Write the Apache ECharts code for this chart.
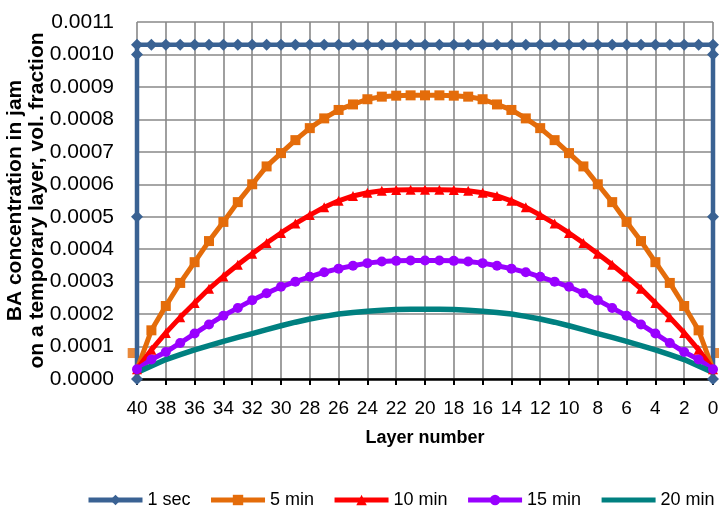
<!DOCTYPE html>
<html><head><meta charset="utf-8">
<script src="https://cdn.jsdelivr.net/npm/echarts@6/dist/echarts.min.js"></script>
<style>html,body{margin:0;padding:0;background:#fff}#c{width:719px;height:514px}</style>
</head><body><div id="c"></div>
<script>
const layers = [40,39,38,37,36,35,34,33,32,31,30,29,28,27,26,25,24,23,22,21,20,19,18,17,16,15,14,13,12,11,10,9,8,7,6,5,4,3,2,1,0];
const xTicks = [40,38,36,34,32,30,28,26,24,22,20,18,16,14,12,10,8,6,4,2,0];
const yTicks = [0,0.0001,0.0002,0.0003,0.0004,0.0005,0.0006,0.0007,0.0008,0.0009,0.0010,0.0011];
const seriesNames = ['1 sec','5 min','10 min','15 min','20 min'];

const sec1Layers = [40,40,40,40,39,38,37,36,35,34,33,32,31,30,29,28,27,26,25,24,23,22,21,20,19,18,17,16,15,14,13,12,11,10,9,8,7,6,5,4,3,2,1,0,0,0,0];
const sec1 = [0,0.0005,0.0010,0.00103,0.00103,0.00103,0.00103,0.00103,0.00103,0.00103,0.00103,0.00103,0.00103,0.00103,0.00103,0.00103,0.00103,0.00103,0.00103,0.00103,0.00103,0.00103,0.00103,0.00103,0.00103,0.00103,0.00103,0.00103,0.00103,0.00103,0.00103,0.00103,0.00103,0.00103,0.00103,0.00103,0.00103,0.00103,0.00103,0.00103,0.00103,0.00103,0.00103,0.00103,0.0010,0.0005,0];

const min5 = [0.00003,0.00015,0.000225,0.000296,0.00036,0.000425,0.000484,0.000545,0.0006,0.000655,0.000696,0.000736,0.000773,0.000803,0.000829,0.000846,0.000862,0.00087,0.000873,0.000874,0.000874,0.000874,0.000873,0.00087,0.000862,0.000846,0.000829,0.000803,0.000773,0.000736,0.000696,0.000655,0.0006,0.000545,0.000484,0.000425,0.00036,0.000296,0.000225,0.00015,0.00003];
const min5EdgeLayers = [40.3,-0.3];
const min5Edge = [0.00008,0.00008];

const min10 = [0.00003,0.00009,0.000142,0.00019,0.000234,0.000278,0.000316,0.000352,0.000386,0.000419,0.00045,0.000479,0.000505,0.000529,0.000549,0.000564,0.000574,0.00058,0.000582,0.000583,0.000583,0.000583,0.000582,0.00058,0.000574,0.000564,0.000549,0.000529,0.000505,0.000479,0.00045,0.000419,0.000386,0.000352,0.000316,0.000278,0.000234,0.00019,0.000142,0.00009,0.00003];

const min15 = [0.00003,0.00006,0.000083,0.000111,0.00014,0.000168,0.000195,0.000219,0.000243,0.000264,0.000284,0.0003,0.000315,0.000329,0.00034,0.000349,0.000357,0.000362,0.000364,0.000365,0.000365,0.000365,0.000364,0.000362,0.000357,0.000349,0.00034,0.000329,0.000315,0.0003,0.000284,0.000264,0.000243,0.000219,0.000195,0.000168,0.00014,0.000111,0.000083,0.00006,0.00003];

const min20 = [0.00002,0.00004,0.00006,0.000075,0.00009,0.000103,0.000116,0.000128,0.00014,0.000152,0.000164,0.000175,0.000185,0.000193,0.0002,0.000205,0.000209,0.000212,0.000214,0.000215,0.000215,0.000215,0.000214,0.000212,0.000209,0.000205,0.0002,0.000193,0.000185,0.000175,0.000164,0.000152,0.00014,0.000128,0.000116,0.000103,0.00009,0.000075,0.00006,0.00004,0.00002];

const colors = ['#3A6293','#E46C0A','#FF0000','#9900FF','#008080'];
const FONT = 'Liberation Sans';

function pairs(xs, ys){ return xs.map((x,i)=>[x, ys[i]]); }

const min5Data = pairs(layers, min5).map((p,i,a)=> (i===0||i===a.length-1) ? {value:p, symbol:'none'} : p);

const chart = echarts.init(document.getElementById('c'), null, {renderer:'canvas'});
chart.setOption({
  animation:false,
  backgroundColor:'#fff',
  grid:{left:137, right:6, top:22, bottom:135, containLabel:false, outerBoundsMode:'none'},
  xAxis:{
    type:'value', inverse:true, min:0, max:40, interval:2,
    name:'Layer number', nameLocation:'middle', nameGap:50, nameMoveOverlap:false,
    nameTextStyle:{fontFamily:FONT, fontWeight:'bold', fontSize:18, color:'#000'},
    axisLine:{show:true, onZero:false, lineStyle:{color:'#000', width:2.5}},
    axisTick:{show:true, inside:false, length:6, lineStyle:{color:'#000', width:2}},
    axisLabel:{fontFamily:FONT, fontSize:19, color:'#000', margin:20},
    splitLine:{show:true, lineStyle:{color:'#888', width:1.6}}
  },
  yAxis:{
    type:'value', min:0, max:0.0011, interval:0.0001,
    name:'BA concentration in jam\non a temporary layer, vol. fraction',
    nameLocation:'middle', nameGap:89, nameRotate:90, nameMoveOverlap:false,
    nameTextStyle:{fontFamily:FONT, fontWeight:'bold', fontSize:21, color:'#000', lineHeight:22},
    axisLine:{show:false},
    axisTick:{show:false},
    axisLabel:{fontFamily:FONT, fontSize:21, color:'#000', margin:23, formatter:v=>v.toFixed(4)},
    splitLine:{show:true, lineStyle:{color:'#888', width:1.6}}
  },
  legend:{
    data:[
      {name:seriesNames[0]},
      {name:seriesNames[1]},
      {name:seriesNames[2]},
      {name:seriesNames[3]},
      {name:seriesNames[4], itemStyle:{opacity:0}}
    ],
    left:86, right:0, bottom:5, padding:0, itemWidth:54, itemHeight:13, itemGap:18,
    lineStyle:{width:5},
    textStyle:{fontFamily:FONT, fontSize:18, color:'#000'}
  },
  series:[
    {name:seriesNames[0], type:'line', clip:false, data:pairs(sec1Layers, sec1), symbol:'diamond', symbolSize:12,
     lineStyle:{color:colors[0], width:4.5}, itemStyle:{color:colors[0]}},
    {name:seriesNames[1], type:'line', clip:false, data:min5Data, symbol:'rect', symbolSize:10,
     lineStyle:{color:colors[1], width:5}, itemStyle:{color:colors[1]}},
    {name:'5 min edge', type:'scatter', clip:false, data:pairs(min5EdgeLayers, min5Edge), symbol:'rect', symbolSize:10,
     itemStyle:{color:colors[1]}},
    {name:seriesNames[2], type:'line', clip:false, data:pairs(layers, min10), symbol:'triangle', symbolSize:10,
     lineStyle:{color:colors[2], width:5}, itemStyle:{color:colors[2]}},
    {name:seriesNames[3], type:'line', clip:false, data:pairs(layers, min15), symbol:'circle', symbolSize:10,
     lineStyle:{color:colors[3], width:5}, itemStyle:{color:colors[3]}},
    {name:seriesNames[4], type:'line', clip:false, data:pairs(layers, min20), symbol:'none',
     lineStyle:{color:colors[4], width:5.5}, itemStyle:{color:colors[4]}}
  ]
});
</script></body></html>
